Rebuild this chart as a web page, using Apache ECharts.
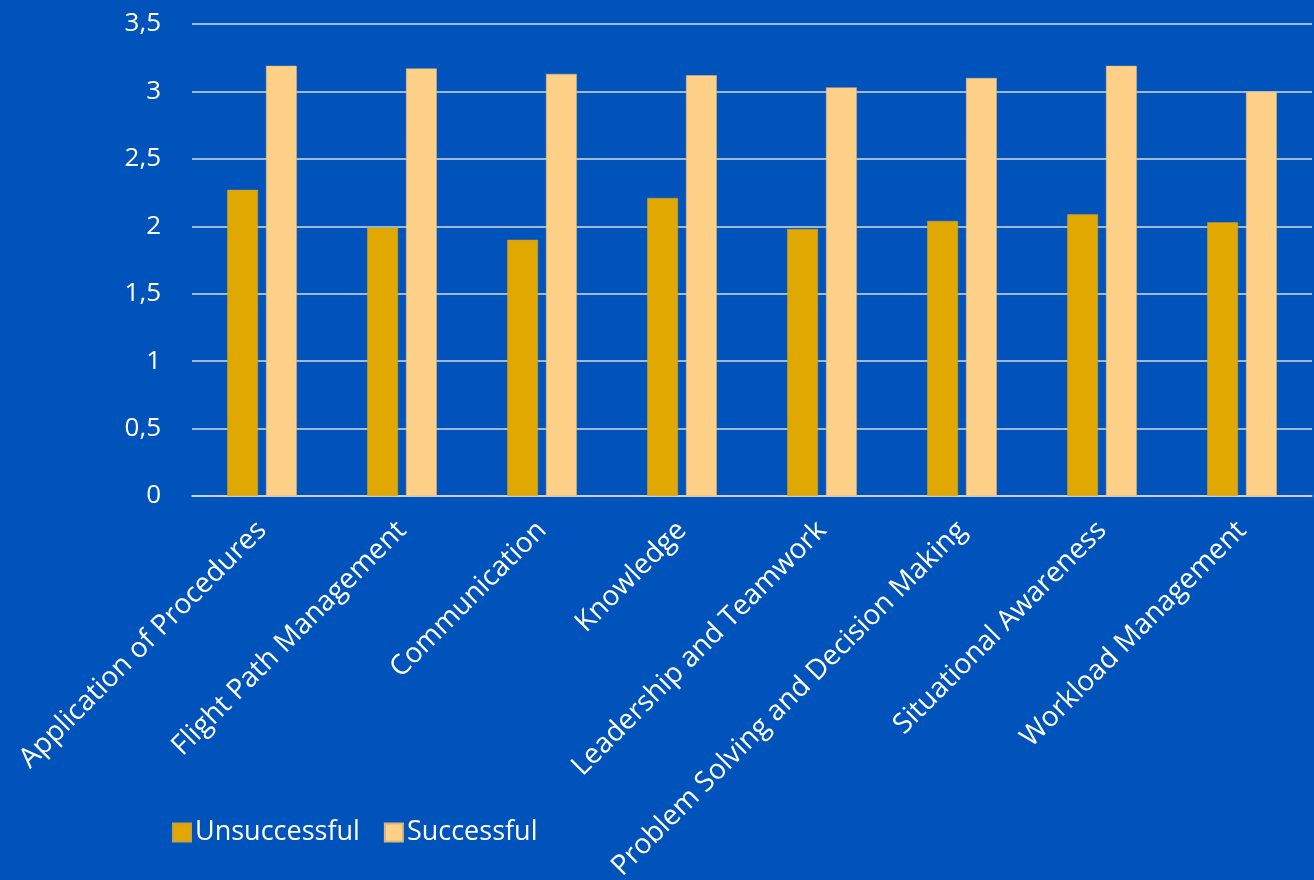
<!DOCTYPE html>
<html><head><meta charset="utf-8">
<script src="https://cdn.jsdelivr.net/npm/echarts@6/dist/echarts.min.js"></script>
<style>html,body{margin:0;padding:0;background:#0053BA;}#c{width:1314px;height:880px;}</style>
</head><body><div id="c"></div>
<script>
const categories = ["Application of Procedures","Flight Path Management","Communication","Knowledge","Leadership and Teamwork","Problem Solving and Decision Making","Situational Awareness","Workload Management"];
const unsuccessful = [2.27, 1.99, 1.90, 2.21, 1.98, 2.04, 2.09, 2.03];
const successful = [3.19, 3.17, 3.13, 3.12, 3.03, 3.10, 3.19, 3.00];
const yTicks = [0, 0.5, 1, 1.5, 2, 2.5, 3, 3.5];

const font = '"Open Sans", "Noto Sans", sans-serif';
const chart = echarts.init(document.getElementById('c'));
chart.setOption({
  backgroundColor: '#0053BA',
  animation: false,
  textStyle: {fontFamily: font},
  grid: {left: 192, right: 2, top: 24, bottom: 384, containLabel: false, outerBoundsMode: 'none'},
  legend: {
    left: 167, top: 814, itemWidth: 18, itemHeight: 18, itemGap: 24,
    icon: 'rect',
    textStyle: {color: '#FFFFFF', fontSize: 27, fontFamily: font, padding: [0,0,0,-1]},
    data: ['Unsuccessful','Successful']
  },
  xAxis: {
    type: 'category', data: categories,
    axisLine: {show: true, lineStyle: {color: '#D9D9D9', width: 1.5}},
    axisTick: {show: false},
    axisLabel: {color: '#FFFFFF', fontSize: 28, rotate: 45, interval: 0, margin: 30, fontFamily: font}
  },
  yAxis: {
    type: 'value', min: yTicks[0], max: yTicks[yTicks.length-1], interval: 0.5,
    axisLine: {show: false}, axisTick: {show: false},
    splitLine: {lineStyle: {color: '#D9D9D9', width: 1.5}},
    axisLabel: {color: '#FFFFFF', fontSize: 26, margin: 31, fontFamily: font,
      formatter: v => String(v).replace('.', ',')}
  },
  series: [
    {name: 'Unsuccessful', type: 'bar', data: unsuccessful, barWidth: '22%', barGap: '26%',
     itemStyle: {color: '#E0A800', borderColor: '#C9A040', borderWidth: 0.5}},
    {name: 'Successful', type: 'bar', data: successful, barWidth: '22%', barGap: '26%',
     itemStyle: {color: '#FFD088', borderColor: '#D9B87A', borderWidth: 0.5}}
  ]
});
</script></body></html>
